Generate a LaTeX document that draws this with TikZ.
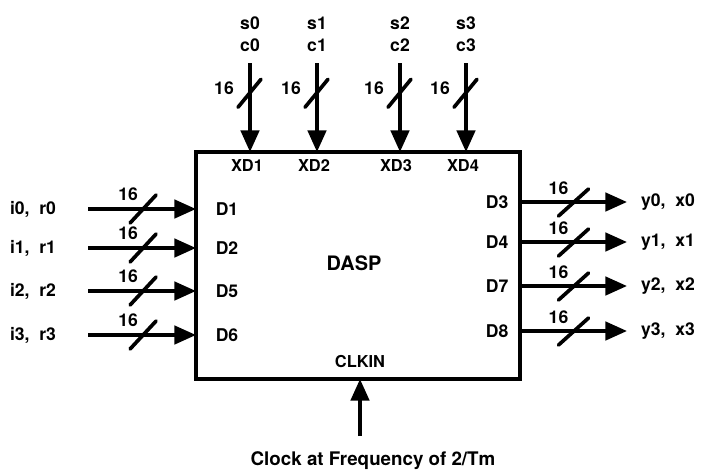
\documentclass[tikz,border=0pt]{standalone}
\usepackage{fontspec}
\setsansfont{TeX Gyre Heros}
\usetikzlibrary{arrows.meta}

\begin{document}
\begin{tikzpicture}[x=0.03cm,y=-0.03cm,line width=1.1mm,
    font=\fontsize{15}{17}\selectfont\sffamily\bfseries,
    bus/.style={-{Triangle[length=6.5mm,width=5.5mm]}},
    slash/.style={line cap=round}]
    \useasboundingbox (0,0) rectangle (711,471);
    % the DASP chip
    \coordinate (NW) at (196,152);
    \coordinate (SE) at (520,379);
    \draw [line width=1mm] (NW) rectangle (SE);
    \node (dasp) at (354,263) {\fontsize{17}{20}\selectfont DASP};
    \node (clkin) at (360,362) {\fontsize{14}{16}\selectfont CLKIN};
    % top buses
    \coordinate (S0) at (250,63);
    \coordinate (S1) at (317,63);
    \coordinate (S2) at (400,63);
    \coordinate (S3) at (466,63);
    \coordinate (XD1) at (250,152);
    \coordinate (XD2) at (317,152);
    \coordinate (XD3) at (400,152);
    \coordinate (XD4) at (466,152);
    \node at (250,23) {s0};
    \node at (250,45) {c0};
    \node at (317,23) {s1};
    \node at (317,45) {c1};
    \node at (400,23) {s2};
    \node at (400,45) {c2};
    \node at (466,23) {s3};
    \node at (466,45) {c3};
    \draw [bus] (S0) -- (XD1) coordinate [pos=0.34] (b0);
    \draw [bus] (S1) -- (XD2) coordinate [pos=0.34] (b1);
    \draw [bus] (S2) -- (XD3) coordinate [pos=0.34] (b2);
    \draw [bus] (S3) -- (XD4) coordinate [pos=0.34] (b3);
    \draw [slash,shift={(b0)}] (-12,14) -- (11,-14) node at (-26,-5) {16};
    \draw [slash,shift={(b1)}] (-12,14) -- (11,-14) node at (-26,-5) {16};
    \draw [slash,shift={(b2)}] (-12,14) -- (11,-14) node at (-26,-5) {16};
    \draw [slash,shift={(b3)}] (-12,14) -- (11,-14) node at (-26,-5) {16};
    \node at (247,166) {\fontsize{14}{16}\selectfont XD1};
    \node at (314,166) {\fontsize{14}{16}\selectfont XD2};
    \node at (396,166) {\fontsize{14}{16}\selectfont XD3};
    \node at (463,166) {\fontsize{14}{16}\selectfont XD4};
    % inputs
    \coordinate (I0) at (88,209);
    \coordinate (I1) at (88,248);
    \coordinate (I2) at (88,291);
    \coordinate (I3) at (88,335);
    \node at (33,209) {i0,\ \ r0};
    \node at (33,248) {i1,\ \ r1};
    \node at (33,291) {i2,\ \ r2};
    \node at (33,335) {i3,\ \ r3};
    \coordinate [label={[xshift=12]right:D1}] (D1) at (196,209);
    \coordinate [label={[xshift=12]right:D2}] (D2) at (196,248);
    \coordinate [label={[xshift=12]right:D5}] (D5) at (196,291);
    \coordinate [label={[xshift=12]right:D6}] (D6) at (196,335);
    \draw [bus] (I0) -- (D1) coordinate [pos=0.51] (a0);
    \draw [bus] (I1) -- (D2) coordinate [pos=0.51] (a1);
    \draw [bus] (I2) -- (D5) coordinate [pos=0.51] (a2);
    \draw [bus] (I3) -- (D6) coordinate [pos=0.51] (a3);
    \draw [slash,shift={(a0)}] (-13,14) -- (13,-14) node at (-15,-15) {16};
    \draw [slash,shift={(a1)}] (-13,14) -- (13,-14) node at (-15,-15) {16};
    \draw [slash,shift={(a2)}] (-13,14) -- (13,-14) node at (-15,-15) {16};
    \draw [slash,shift={(a3)}] (-13,14) -- (13,-14) node at (-15,-15) {16};
    % outputs
    \coordinate [label={[xshift=-5]left:D3}] (D3) at (520,202);
    \coordinate [label={[xshift=-5]left:D4}] (D4) at (520,242);
    \coordinate [label={[xshift=-5]left:D7}] (D7) at (520,286);
    \coordinate [label={[xshift=-5]left:D8}] (D8) at (520,331);
    \coordinate (Y0) at (627,202);
    \coordinate (Y1) at (627,242);
    \coordinate (Y2) at (627,286);
    \coordinate (Y3) at (627,331);
    \node at (668,202) {y0,\ \ x0};
    \node at (668,242) {y1,\ \ x1};
    \node at (668,286) {y2,\ \ x2};
    \node at (668,331) {y3,\ \ x3};
    \draw [bus] (D3) -- (Y0) coordinate [pos=0.5] (o0);
    \draw [bus] (D4) -- (Y1) coordinate [pos=0.5] (o1);
    \draw [bus] (D7) -- (Y2) coordinate [pos=0.5] (o2);
    \draw [bus] (D8) -- (Y3) coordinate [pos=0.5] (o3);
    \draw [slash,shift={(o0)}] (-15,14) -- (15,-13) node at (-15,-14) {16};
    \draw [slash,shift={(o1)}] (-15,14) -- (15,-13) node at (-15,-14) {16};
    \draw [slash,shift={(o2)}] (-15,14) -- (15,-13) node at (-15,-14) {16};
    \draw [slash,shift={(o3)}] (-15,14) -- (15,-13) node at (-15,-14) {16};
    % clock
    \coordinate (CLK) at (360,436);
    \coordinate (CK) at (360,379);
    \draw [bus] (CLK) -- (CK);
    \node (clock) at (373,461) {\fontsize{16}{19}\selectfont Clock at Frequency of 2/Tm};
\end{tikzpicture}
\end{document}
